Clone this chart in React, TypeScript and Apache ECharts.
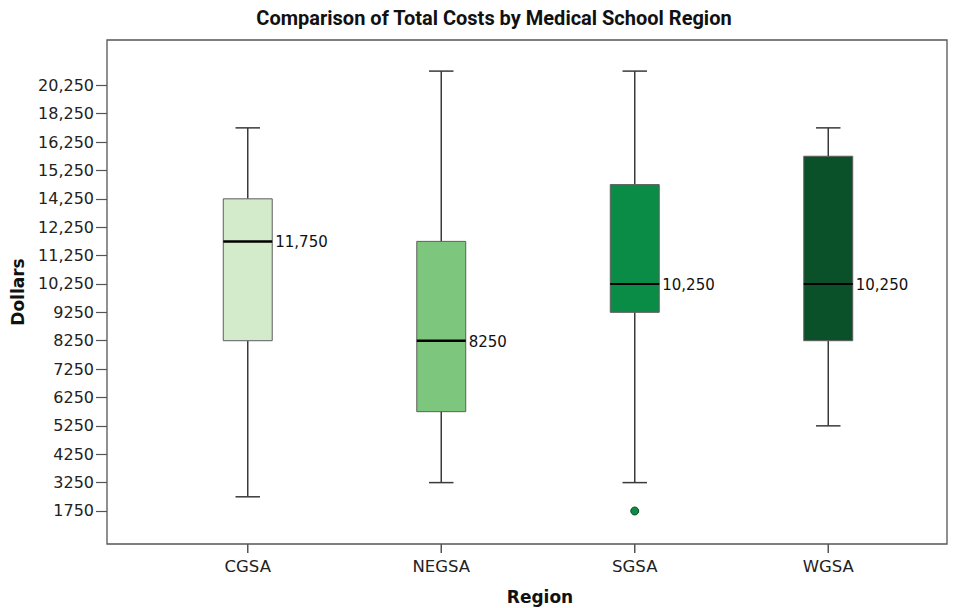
import React, { useEffect, useRef } from "react";
import * as echarts from "echarts";

// ---- data (dollars) ----
const categories = ["CGSA", "NEGSA", "SGSA", "WGSA"];
const whiskerLow = [2500, 3250, 3250, 5250];
const quartile1 = [8250, 5750, 9250, 8250];
const medians = [11750, 8250, 10250, 10250];
const quartile3 = [14250, 11750, 14750, 15750];
const whiskerHigh = [17250, 21250, 21250, 17250];
const medianLabels = ["11,750", "8250", "10,250", "10,250"];
const outlierCategory = [2];
const outlierValue = [1750];
const boxColors = ["#d3eacb", "#7dc67e", "#0b8c46", "#0a5129"];

// ---- y axis ticks (evenly spaced, non-uniform values) ----
const yTickValues = [1750, 3250, 4250, 5250, 6250, 7250, 8250, 9250, 10250, 11250, 12250, 14250, 15250, 16250, 18250, 20250];
const yTickLabels = ["1750", "3250", "4250", "5250", "6250", "7250", "8250", "9250", "10,250", "11,250", "12,250", "14,250", "15,250", "16,250", "18,250", "20,250"];

// map a dollar value onto the tick-index axis (piecewise linear between ticks)
function toAxis(v: number): number {
  const t = yTickValues;
  const n = t.length;
  if (v <= t[0]) return (v - t[0]) / (t[1] - t[0]);
  if (v >= t[n - 1]) return n - 1 + (v - t[n - 1]) / (t[n - 1] - t[n - 2]);
  for (let i = 0; i < n - 1; i++) {
    if (v >= t[i] && v <= t[i + 1]) return i + (v - t[i]) / (t[i + 1] - t[i]);
  }
  return 0;
}

const Y_MIN = -1.163;
const Y_MAX = 16.596;
const tickIdx = yTickValues.map((_, i) => i);
const FONT = "'DejaVu Sans', sans-serif";

export default function App() {
  const ref = useRef<HTMLDivElement>(null);
  useEffect(() => {
    document.body.style.margin = "0";
    if (!ref.current) return;
    const chart = echarts.init(ref.current, null, { renderer: "svg" });
    const boxData = categories.map((_, i) => [
      i,
      toAxis(whiskerLow[i]),
      toAxis(quartile1[i]),
      toAxis(medians[i]),
      toAxis(quartile3[i]),
      toAxis(whiskerHigh[i]),
    ]);
    const option: any = {
      animation: false,
      backgroundColor: "#ffffff",
      grid: [
        { left: 107, right: 13, top: 40, bottom: 64, show: true, borderColor: "#555555", borderWidth: 1.3, backgroundColor: "transparent" },
        { left: 151, width: 774, top: 40, bottom: 64 },
      ],
      xAxis: [
        { gridIndex: 0, type: "value", show: false, min: 0, max: 1 },
        {
          gridIndex: 1,
          type: "category",
          data: categories,
          axisLine: { show: false, onZero: false },
          axisTick: { show: false },
          axisLabel: { margin: 14, color: "#222", fontSize: 16.5, fontFamily: FONT },
          splitLine: { show: false },
        },
      ],
      yAxis: [
        {
          gridIndex: 0,
          type: "value",
          min: Y_MIN,
          max: Y_MAX,
          axisLine: { show: false, onZero: false },
          splitLine: { show: false },
          axisTick: { show: true, length: 11, customValues: tickIdx, lineStyle: { color: "#555", width: 1.2 } },
          axisLabel: {
            customValues: tickIdx,
            formatter: (v: number) => yTickLabels[Math.round(v)] ?? "",
            margin: 13,
            color: "#222",
            fontSize: 16,
            fontFamily: FONT,
          },
        },
        { gridIndex: 1, type: "value", min: Y_MIN, max: Y_MAX, show: false, splitLine: { show: false } },
      ],
      graphic: [
        {
          type: "text",
          x: 494,
          y: 18,
          style: {
            text: "Comparison of Total Costs by Medical School Region",
            fill: "#111",
            font: "bold 20px Roboto, sans-serif",
            align: "center",
            verticalAlign: "middle",
          },
        },
        {
          type: "text",
          x: 18,
          y: 292,
          rotation: Math.PI / 2,
          style: { text: "Dollars", fill: "#111", font: "bold 17px 'DejaVu Sans', sans-serif", align: "center", verticalAlign: "middle" },
        },
        {
          type: "text",
          x: 540,
          y: 597,
          style: { text: "Region", fill: "#111", font: "bold 17px 'DejaVu Sans', sans-serif", align: "center", verticalAlign: "middle" },
        },
      ],
      series: [
        {
          type: "custom",
          xAxisIndex: 1,
          yAxisIndex: 1,
          clip: false,
          z: 10,
          data: boxData,
          renderItem: (params: any, api: any) => {
            const idx = params.dataIndex;
            const x = api.value(0);
            const pLow = api.coord([x, api.value(1)]);
            const pQ1 = api.coord([x, api.value(2)]);
            const pMed = api.coord([x, api.value(3)]);
            const pQ3 = api.coord([x, api.value(4)]);
            const pHigh = api.coord([x, api.value(5)]);
            const band = api.size([1, 0])[0];
            const bw = band * 0.253;
            const cap = bw / 2;
            const cx = pMed[0];
            const baseY = pLow[1] + (api.size([0, api.value(1) - Y_MIN])[1] as number);
            const wStyle = { stroke: "#3a3a3a", lineWidth: 1.5 };
            return {
              type: "group",
              children: [
                {
                  type: "rect",
                  shape: { x: cx - 0.75, y: baseY, width: 1.5, height: 9 },
                  style: { fill: "#555" },
                  z2: 100,
                },
                { type: "line", shape: { x1: cx, y1: pHigh[1], x2: cx, y2: pQ3[1] }, style: wStyle },
                { type: "line", shape: { x1: cx - cap / 2, y1: pHigh[1], x2: cx + cap / 2, y2: pHigh[1] }, style: wStyle },
                { type: "line", shape: { x1: cx, y1: pQ1[1], x2: cx, y2: pLow[1] }, style: wStyle },
                { type: "line", shape: { x1: cx - cap / 2, y1: pLow[1], x2: cx + cap / 2, y2: pLow[1] }, style: wStyle },
                {
                  type: "rect",
                  shape: { x: cx - bw / 2, y: pQ3[1], width: bw, height: pQ1[1] - pQ3[1] },
                  style: { fill: boxColors[idx], stroke: "#5e5e5e", lineWidth: 1 },
                },
                {
                  type: "line",
                  shape: { x1: cx - bw / 2, y1: pMed[1], x2: cx + bw / 2, y2: pMed[1] },
                  style: { stroke: "#000", lineWidth: idx < 2 ? 2.5 : 2 },
                },
                {
                  type: "text",
                  x: cx + bw / 2 + 3,
                  y: pMed[1] + 1,
                  style: { text: medianLabels[idx], fill: "#111", font: "15px 'DejaVu Sans', sans-serif", verticalAlign: "middle", align: "left" },
                },
              ],
            };
          },
        },
        {
          type: "scatter",
          xAxisIndex: 1,
          yAxisIndex: 1,
          symbol: "circle",
          symbolSize: 8,
          data: outlierCategory.map((c, i) => [c, toAxis(outlierValue[i])]),
          itemStyle: { color: "#0f8a45", borderColor: "#0a4f28", borderWidth: 1, opacity: 1 },
        },
      ],
    };
    chart.setOption(option);
    return () => chart.dispose();
  }, []);
  return <div ref={ref} style={{ width: 960, height: 608 }} />;
}
